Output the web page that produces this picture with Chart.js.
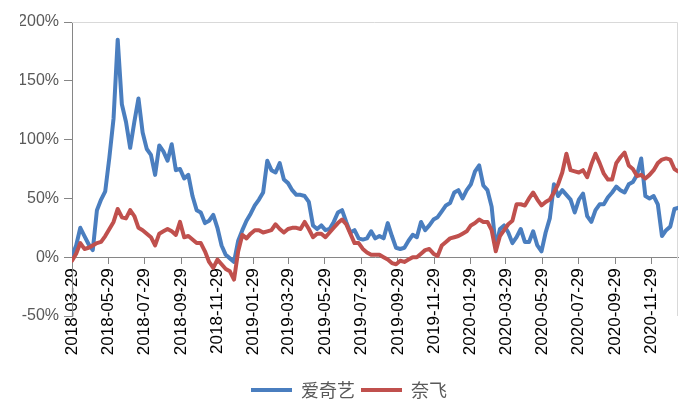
<!DOCTYPE html>
<html>
<head>
<meta charset="utf-8">
<script src="https://cdn.jsdelivr.net/npm/chart.js@4/dist/chart.umd.min.js"></script>
<style>
  html, body { margin: 0; padding: 0; background: #fff; }
  #wrap { width: 700px; height: 420px; }
</style>
</head>
<body>
<div id="wrap"><canvas id="retChart"></canvas></div>
<script>
// weekly closing dates
const dates = [
  '2018-03-29','2018-04-05','2018-04-12','2018-04-19','2018-04-26','2018-05-03','2018-05-10','2018-05-17','2018-05-24','2018-05-31',
  '2018-06-07','2018-06-14','2018-06-21','2018-06-28','2018-07-05','2018-07-12','2018-07-19','2018-07-26','2018-08-02','2018-08-09',
  '2018-08-16','2018-08-23','2018-08-30','2018-09-06','2018-09-13','2018-09-20','2018-09-27','2018-10-04','2018-10-11','2018-10-18',
  '2018-10-25','2018-11-01','2018-11-08','2018-11-15','2018-11-22','2018-11-29','2018-12-06','2018-12-13','2018-12-20','2018-12-27',
  '2019-01-03','2019-01-10','2019-01-17','2019-01-24','2019-01-31','2019-02-07','2019-02-14','2019-02-21','2019-02-28','2019-03-07',
  '2019-03-14','2019-03-21','2019-03-28','2019-04-04','2019-04-11','2019-04-18','2019-04-25','2019-05-02','2019-05-09','2019-05-16',
  '2019-05-23','2019-05-30','2019-06-06','2019-06-13','2019-06-20','2019-06-27','2019-07-04','2019-07-11','2019-07-18','2019-07-25',
  '2019-08-01','2019-08-08','2019-08-15','2019-08-22','2019-08-29','2019-09-05','2019-09-12','2019-09-19','2019-09-26','2019-10-03',
  '2019-10-10','2019-10-17','2019-10-24','2019-10-31','2019-11-07','2019-11-14','2019-11-21','2019-11-28','2019-12-05','2019-12-12',
  '2019-12-19','2019-12-26','2020-01-02','2020-01-09','2020-01-16','2020-01-23','2020-01-30','2020-02-06','2020-02-13','2020-02-20',
  '2020-02-27','2020-03-05','2020-03-12','2020-03-19','2020-03-26','2020-04-02','2020-04-09','2020-04-16','2020-04-23','2020-04-30',
  '2020-05-07','2020-05-14','2020-05-21','2020-05-28','2020-06-04','2020-06-11','2020-06-18','2020-06-25','2020-07-02','2020-07-09',
  '2020-07-16','2020-07-23','2020-07-30','2020-08-06','2020-08-13','2020-08-20','2020-08-27','2020-09-03','2020-09-10','2020-09-17',
  '2020-09-24','2020-10-01','2020-10-08','2020-10-15','2020-10-22','2020-10-29','2020-11-05','2020-11-12','2020-11-19','2020-11-26',
  '2020-12-03','2020-12-10','2020-12-17','2020-12-24','2020-12-31','2021-01-07','2021-01-13'
];

// cumulative return, %
const iqiyi = [
  1, 10, 25, 18, 11, 6, 40, 49, 56, 85,
  118, 185, 130, 115, 93, 115, 135, 106, 92, 87,
  70, 95, 90, 82, 96, 74, 75, 67, 70, 52,
  40, 38, 29, 31, 36, 25, 10, 2, -1, -4,
  14, 23, 31, 37, 44, 49, 55, 82, 74, 72,
  80, 66, 63, 57, 53, 53, 52, 47, 27, 24,
  27, 23, 24, 30, 38, 40, 30, 21, 23, 16,
  15, 16, 22, 16, 18, 16, 29, 18, 8, 7,
  8, 14, 19, 17, 30, 23, 27, 32, 34, 39,
  44, 46, 55, 57, 50, 57, 62, 73, 78, 61,
  57, 43, 8, 24, 27, 21, 12, 17, 24, 13,
  13, 22, 10, 5, 21, 33, 62, 52, 57, 53,
  49, 38, 49, 54, 35, 30, 40, 45, 45, 51,
  55, 60, 57, 55, 62, 64, 70, 84, 52, 50,
  52, 45, 18, 23, 26, 41, 42
];

const netflix = [
  -3, 3, 12, 7, 8, 10, 12, 13, 18, 24,
  30, 41, 34, 33, 40, 35, 25, 23, 20, 17,
  10, 20, 22, 24, 22, 19, 30, 17, 18, 15,
  12, 12, 5, -4, -9, -2, -6, -10, -12, -19,
  5, 19, 16, 20, 23, 23, 21, 22, 23, 28,
  24, 21, 24, 25, 25, 24, 30, 24, 17, 20,
  20, 17, 21, 25, 29, 32, 28, 20, 12, 12,
  7, 4, 2, 2, 2, 0, -2, -5, -6, -3,
  -4, -2, 0, 0, 3, 6, 7, 3, 1, 10,
  13, 16, 17, 18, 20, 22, 27, 29, 32, 30,
  30, 23, 5, 18, 23, 28, 31, 45, 45, 44,
  50, 55, 49, 44, 47, 49, 55, 62, 72, 88,
  74, 73, 72, 74, 68, 79, 88, 80, 71, 66,
  66, 80, 85, 89, 78, 75, 69, 70, 67, 70,
  74, 80, 83, 84, 83, 75, 73
];

const tickLabels = [
  '2018-03-29','2018-05-29','2018-07-29','2018-09-29','2018-11-29','2019-01-29',
  '2019-03-29','2019-05-29','2019-07-29','2019-09-29','2019-11-29','2020-01-29',
  '2020-03-29','2020-05-29','2020-07-29','2020-09-29','2020-11-29'
];

const seriesNames = ['爱奇艺', '奈飞'];

const DAY = 86400000;
const t0 = Date.parse(dates[0]);
const dayOf = d => (Date.parse(d) - t0) / DAY;
const tickDays = tickLabels.map(dayOf);

function points(values) {
  return values.map((v, i) => ({ x: dayOf(dates[i]), y: v }));
}

const plotBorder = {
  id: 'plotBorder',
  beforeDatasetsDraw(chart) {
    const { ctx, chartArea: a } = chart;
    ctx.save();
    ctx.strokeStyle = '#d9d9d9';
    ctx.lineWidth = 1;
    ctx.beginPath();
    ctx.moveTo(a.left, a.top + 0.5);
    ctx.lineTo(a.right - 0.5, a.top + 0.5);
    ctx.lineTo(a.right - 0.5, a.bottom);
    ctx.stroke();
    ctx.restore();
  }
};

const ctx = document.getElementById('retChart').getContext('2d');

new Chart(ctx, {
  type: 'line',
  data: {
    datasets: [{
      label: seriesNames[0],
      data: points(iqiyi),
      borderColor: '#4a7ebf',
      backgroundColor: '#4a7ebf',
      borderWidth: 4,
      borderCapStyle: 'round',
      borderJoinStyle: 'round',
      pointRadius: 0,
      tension: 0,
      order: 1
    }, {
      label: seriesNames[1],
      data: points(netflix),
      borderColor: '#c0504d',
      backgroundColor: '#c0504d',
      borderWidth: 4,
      borderCapStyle: 'round',
      borderJoinStyle: 'round',
      pointRadius: 0,
      tension: 0,
      order: 0
    }]
  },
  options: {
    responsive: true,
    maintainAspectRatio: false,
    animation: false,
    layout: { padding: { left: 20, right: 22, top: 22, bottom: 11 } },
    plugins: {
      tooltip: { enabled: false },
      legend: {
        position: 'bottom',
        title: { display: true, text: '', font: { size: 10 }, padding: { top: 0, bottom: 47 } },
        labels: {
          usePointStyle: true,
          pointStyle: 'line',
          pointStyleWidth: 41,
          padding: 6,
          color: '#595959',
          font: { family: 'Noto Sans CJK SC', size: 18 },
          sort: (a, b) => a.datasetIndex - b.datasetIndex
        }
      }
    },
    scales: {
      x: {
        type: 'linear',
        position: { y: 0 },
        min: 0,
        max: dayOf(dates[dates.length - 1]),
        afterBuildTicks: s => { s.ticks = tickDays.map(v => ({ value: v })); },
        ticks: {
          autoSkip: false,
          minRotation: 90,
          maxRotation: 90,
          padding: 5,
          color: '#000',
          font: { family: 'Liberation Sans', size: 17 },
          callback: (v, i) => tickLabels[i]
        },
        grid: { drawOnChartArea: false, drawTicks: true, tickLength: 6, color: '#868686' },
        border: { color: '#868686', width: 1 }
      },
      y: {
        min: -50,
        max: 200,
        afterFit: s => { s.width = 52; },
        ticks: {
          stepSize: 50,
          padding: 5,
          color: '#595959',
          font: { family: 'Liberation Sans', size: 16 },
          callback: v => v + '%'
        },
        grid: { drawOnChartArea: false, drawTicks: true, tickLength: 8, color: '#868686' },
        border: { color: '#868686', width: 1 }
      }
    }
  },
  plugins: [plotBorder]
});
</script>
</body>
</html>
